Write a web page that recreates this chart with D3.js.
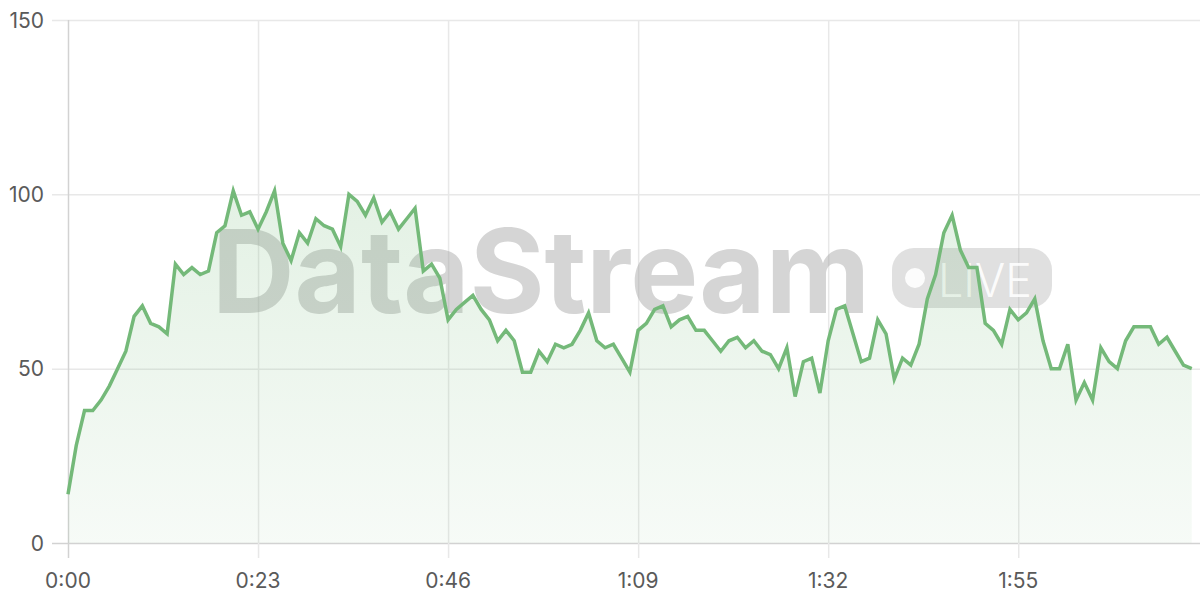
<!DOCTYPE html>
<html>
<head>
<meta charset="utf-8">
<script src="https://cdn.jsdelivr.net/npm/d3@7"></script>
<style>
  html, body { margin: 0; padding: 0; background: #ffffff; }
  svg { display: block; }
  text { font-family: Inter, "Noto Sans", "Liberation Sans", sans-serif; }
</style>
</head>
<body>
<svg id="chart" width="1200" height="600"></svg>
<script>
// ---- data (one sample per second) ----
const values = [
  14, 28, 38, 38, 41, 45, 50, 55, 65, 68,
  63, 62, 60, 80, 77, 79, 77, 78, 89, 91,
  101, 94, 95, 90, 95, 101, 86, 81, 89, 86,
  93, 91, 90, 85, 100, 98, 94, 99, 92, 95,
  90, 93, 96, 78, 80, 76, 64, 67, 69, 71,
  67, 64, 58, 61, 58, 49, 49, 55, 52, 57,
  56, 57, 61, 66, 58, 56, 57, 53, 49, 61,
  63, 67, 68, 62, 64, 65, 61, 61, 58, 55,
  58, 59, 56, 58, 55, 54, 50, 56, 42, 52,
  53, 43, 58, 67, 68, 60, 52, 53, 64, 60,
  47, 53, 51, 57, 70, 77, 89, 94, 84, 79,
  79, 63, 61, 57, 67, 64, 66, 70, 58, 50,
  50, 57, 41, 46, 41, 56, 52, 50, 58, 62,
  62, 62, 57, 59, 55, 51, 50
];
const seconds = values.map((v, i) => i);
const xTickValues = [0, 23, 46, 69, 92, 115];
const xTickLabels = ["0:00", "0:23", "0:46", "1:09", "1:32", "1:55"];
const yTickValues = [0, 50, 100, 150];
const yTickLabels = ["0", "50", "100", "150"];
const watermarkText = "DataStream";
const badgeText = "LIVE";

// ---- layout ----
const svg = d3.select("#chart");
const M = { left: 68, right: 1200, top: 20, bottom: 543 };
const x = d3.scaleLinear().domain([0, 137]).range([M.left, M.right]);
const y = d3.scaleLinear().domain([0, 150]).range([M.bottom, M.top]);

// gradient for area
const defs = svg.append("defs");
const grad = defs.append("linearGradient")
  .attr("id", "areaGrad")
  .attr("gradientUnits", "userSpaceOnUse")
  .attr("x1", 0).attr("x2", 0).attr("y1", y(101)).attr("y2", M.bottom);
grad.append("stop").attr("offset", "0%").attr("stop-color", "#74b979").attr("stop-opacity", 0.2);
grad.append("stop").attr("offset", "100%").attr("stop-color", "#74b979").attr("stop-opacity", 0.06);

// grid
const grid = svg.append("g");
grid.selectAll("line.h").data(yTickValues).join("line")
  .attr("class", "h")
  .attr("x1", M.left - 16).attr("x2", M.right)
  .attr("y1", d => y(d) + 0.5).attr("y2", d => y(d) + 0.5)
  .attr("stroke", d => d === 0 ? "#d2d2d2" : "#e8e8e8").attr("stroke-width", 1.5);
grid.selectAll("line.v").data(xTickValues).join("line")
  .attr("class", "v")
  .attr("x1", d => x(d) + 0.5).attr("x2", d => x(d) + 0.5)
  .attr("y1", M.top).attr("y2", M.bottom + 15)
  .attr("stroke", d => d === 0 ? "#d2d2d2" : "#e8e8e8").attr("stroke-width", 1.5);

// watermark
const wm = svg.append("g");
wm.append("text")
  .attr("x", 212).attr("y", 313)
  .attr("font-size", 116).attr("font-weight", 700)
  .attr("textLength", 658).attr("lengthAdjust", "spacingAndGlyphs")
  .attr("fill", "#9a9a9a").attr("fill-opacity", 0.42)
  .style("font-family", "Inter, 'Liberation Sans', Arial, sans-serif")
  .text(watermarkText);
wm.append("rect")
  .attr("x", 892).attr("y", 248).attr("width", 160).attr("height", 60).attr("rx", 22)
  .attr("fill", "#a8a8a8").attr("fill-opacity", 0.36);
wm.append("circle").attr("cx", 915).attr("cy", 278).attr("r", 10).attr("fill", "#ffffff").attr("fill-opacity", 0.9);
wm.append("text")
  .attr("x", 938).attr("y", 297)
  .attr("font-size", 46).attr("font-weight", 300)
  .attr("textLength", 94).attr("lengthAdjust", "spacingAndGlyphs")
  .attr("fill", "#ffffff").attr("fill-opacity", 0.9)
  .style("font-family", "Inter, 'Liberation Sans', Arial, sans-serif")
  .text(badgeText);

// area + line
const area = d3.area().x((d, i) => x(seconds[i])).y0(M.bottom).y1(d => y(d));
const line = d3.line().x((d, i) => x(seconds[i])).y(d => y(d));
svg.append("path").datum(values).attr("d", area).attr("fill", "url(#areaGrad)");
svg.append("path").datum(values).attr("d", line)
  .attr("fill", "none").attr("stroke", "#74b979").attr("stroke-width", 3.5)
  .attr("stroke-linejoin", "miter").attr("stroke-linecap", "butt");

// axis labels
svg.append("g").selectAll("text").data(yTickValues).join("text")
  .attr("x", 44).attr("y", d => y(d)).attr("dy", "0.36em")
  .attr("text-anchor", "end").attr("font-size", 21).attr("fill", "#5a5a5a")
  .text((d, i) => yTickLabels[i]);
svg.append("g").selectAll("text").data(xTickValues).join("text")
  .attr("x", d => x(d)).attr("y", 580).attr("dy", "0.36em")
  .attr("text-anchor", "middle").attr("font-size", 21).attr("fill", "#5a5a5a")
  .text((d, i) => xTickLabels[i]);
</script>
</body>
</html>
